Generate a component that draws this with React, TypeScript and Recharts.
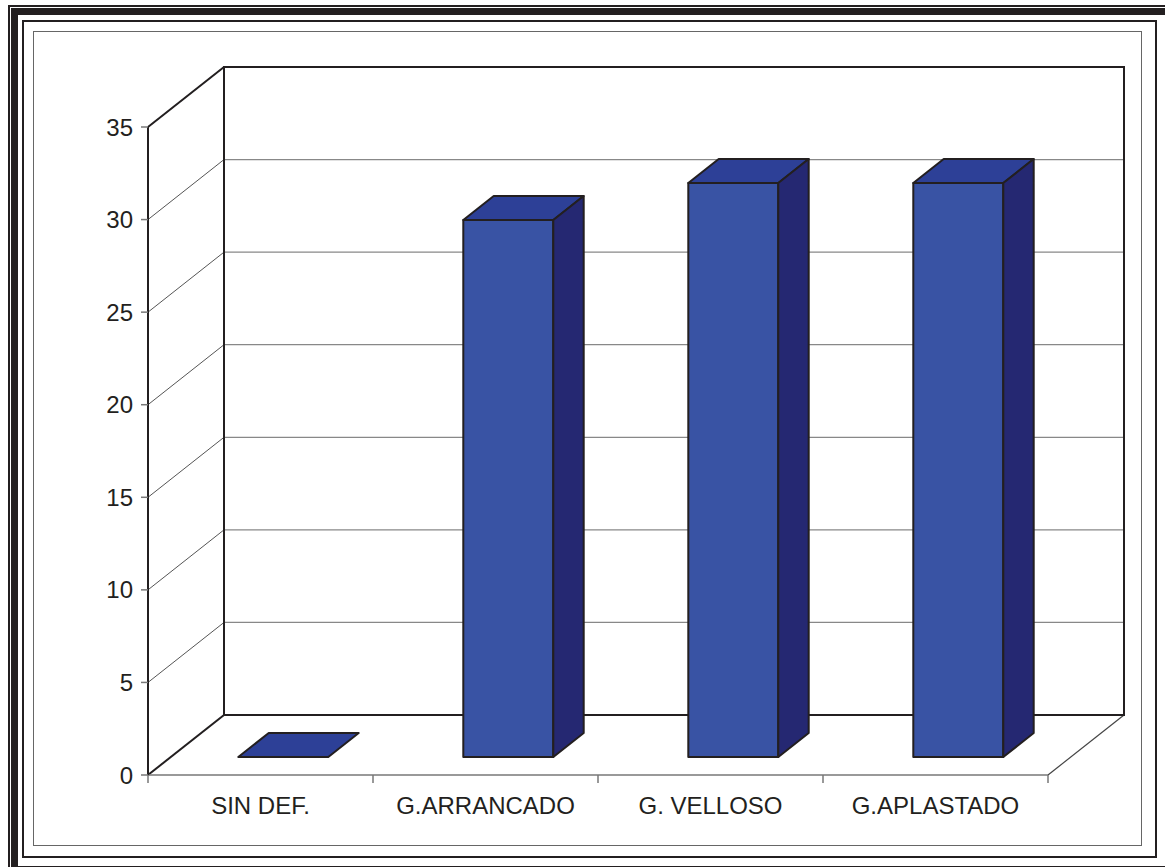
import { BarChart, Bar, XAxis, YAxis, CartesianGrid, ReferenceArea } from "recharts";

const categories = ["SIN DEF.", "G.ARRANCADO", "G. VELLOSO", "G.APLASTADO"];
const values = [0, 29, 31, 31];
const yTicks = [0, 5, 10, 15, 20, 25, 30, 35];

const data = categories.map((name, i) => ({ name, value: values[i] }));

// depth of the fake 3d box
const DX = 76;
const DY = 60;
const INK = "#231F20";
const FONT = "'Liberation Sans', Arial, sans-serif";
const X_TICK_SIZE = 8;
const X_TICK_MARGIN = 22;

function Bar3D(props: any) {
  const { x, y, width, height } = props;
  const h = Math.max(height || 0, 0);
  const fx = x + DX * 0.3;
  const fy = y - DY * 0.3;
  const bx = DX * 0.4;
  const by = DY * 0.4;
  return (
    <g stroke={INK} strokeWidth={2} strokeLinejoin="round">
      {h > 0 && <rect x={fx} y={fy} width={width} height={h} fill="#3953A4" />}
      <polygon
        points={`${fx},${fy} ${fx + bx},${fy - by} ${fx + width + bx},${fy - by} ${fx + width},${fy}`}
        fill="#2D4097"
      />
      {h > 0 && (
        <polygon
          points={`${fx + width},${fy} ${fx + width + bx},${fy - by} ${fx + width + bx},${fy + h - by} ${fx + width},${fy + h}`}
          fill="#252872"
        />
      )}
    </g>
  );
}

function Walls(props: any) {
  const { x, y, width, height } = props;
  const b = y + height;
  return (
    <g fill="none">
      <line x1={x + width} y1={b} x2={x + width + DX} y2={b - DY} stroke="#444" strokeWidth={1.2} />
      <line x1={x} y1={y} x2={x + DX} y2={y - DY} stroke={INK} strokeWidth={2} />
      <line x1={x} y1={b} x2={x + DX} y2={b - DY} stroke={INK} strokeWidth={2} />
      <rect x={x + DX} y={y - DY} width={width} height={height} stroke={INK} strokeWidth={2} />
    </g>
  );
}

function GridLine(props: any) {
  const { x1, y1, x2 } = props;
  return (
    <g key={props.key}>
      <line x1={x1} y1={y1} x2={x1 + DX} y2={y1 - DY} stroke="#555" strokeWidth={1} />
      <line x1={x1 + DX} y1={y1 - DY} x2={x2 + DX} y2={y1 - DY} stroke="#888" strokeWidth={1.3} />
    </g>
  );
}

function CatTick(props: any) {
  const { x, y, payload, index } = props;
  const half = payload && payload.offset ? payload.offset : 112.5;
  const top = y - X_TICK_SIZE - X_TICK_MARGIN;
  return (
    <g>
      <line x1={x - half} y1={top} x2={x - half} y2={top + X_TICK_SIZE} stroke="#777" strokeWidth={1.5} />
      {index === categories.length - 1 && (
        <line x1={x + half} y1={top} x2={x + half} y2={top + X_TICK_SIZE} stroke="#777" strokeWidth={1.5} />
      )}
      <text x={x} y={y} textAnchor="middle" dominantBaseline="central" fill={INK} fontSize={24} fontFamily={FONT}>
        {payload.value}
      </text>
    </g>
  );
}

function Frame() {
  const box = (l: number, t: number, r: number, b: number, w: number, c: string) => (
    <div
      style={{
        position: "absolute",
        left: l,
        top: t,
        width: r - l - w,
        height: b - t - w,
        border: `${w}px solid ${c}`,
      }}
    />
  );
  return (
    <>
      {box(8, 5, 1170, 872, 2, INK)}
      {box(11, 8, 1165, 866, 7, INK)}
      {box(21.5, 19.5, 1155, 856, 2, INK)}
      {box(32.5, 30.5, 1141, 845, 1.5, "#666")}
    </>
  );
}

export default function App() {
  return (
    <div
      style={{
        position: "absolute",
        left: 0,
        top: 0,
        width: 1165,
        height: 867,
        overflow: "hidden",
        background: "#fff",
      }}
    >
      <Frame />
      <div style={{ position: "absolute", left: 0, top: 0 }}>
        <BarChart
          width={1165}
          height={867}
          data={data}
          margin={{ top: 127, right: 117, bottom: 62, left: 88 }}
          barCategoryGap="30%"
        >
          <CartesianGrid vertical={false} horizontal={GridLine as any} />
          <ReferenceArea y1={0} y2={35} shape={Walls as any} ifOverflow="visible" />
          <XAxis
            dataKey="name"
            height={30}
            axisLine={{ stroke: "#777", strokeWidth: 1.5 }}
            tickLine={false}
            tickSize={X_TICK_SIZE}
            tickMargin={X_TICK_MARGIN}
            tick={<CatTick />}
            interval={0}
          />
          <YAxis
            width={60}
            domain={[0, 35]}
            ticks={yTicks}
            interval={0}
            axisLine={{ stroke: INK, strokeWidth: 2 }}
            tickLine={{ stroke: "#777", strokeWidth: 1.5 }}
            tickSize={7}
            tickMargin={8}
            tick={{ fill: INK, fontSize: 24, fontFamily: FONT }}
          />
          <Bar dataKey="value" shape={<Bar3D />} isAnimationActive={false} />
        </BarChart>
      </div>
    </div>
  );
}
